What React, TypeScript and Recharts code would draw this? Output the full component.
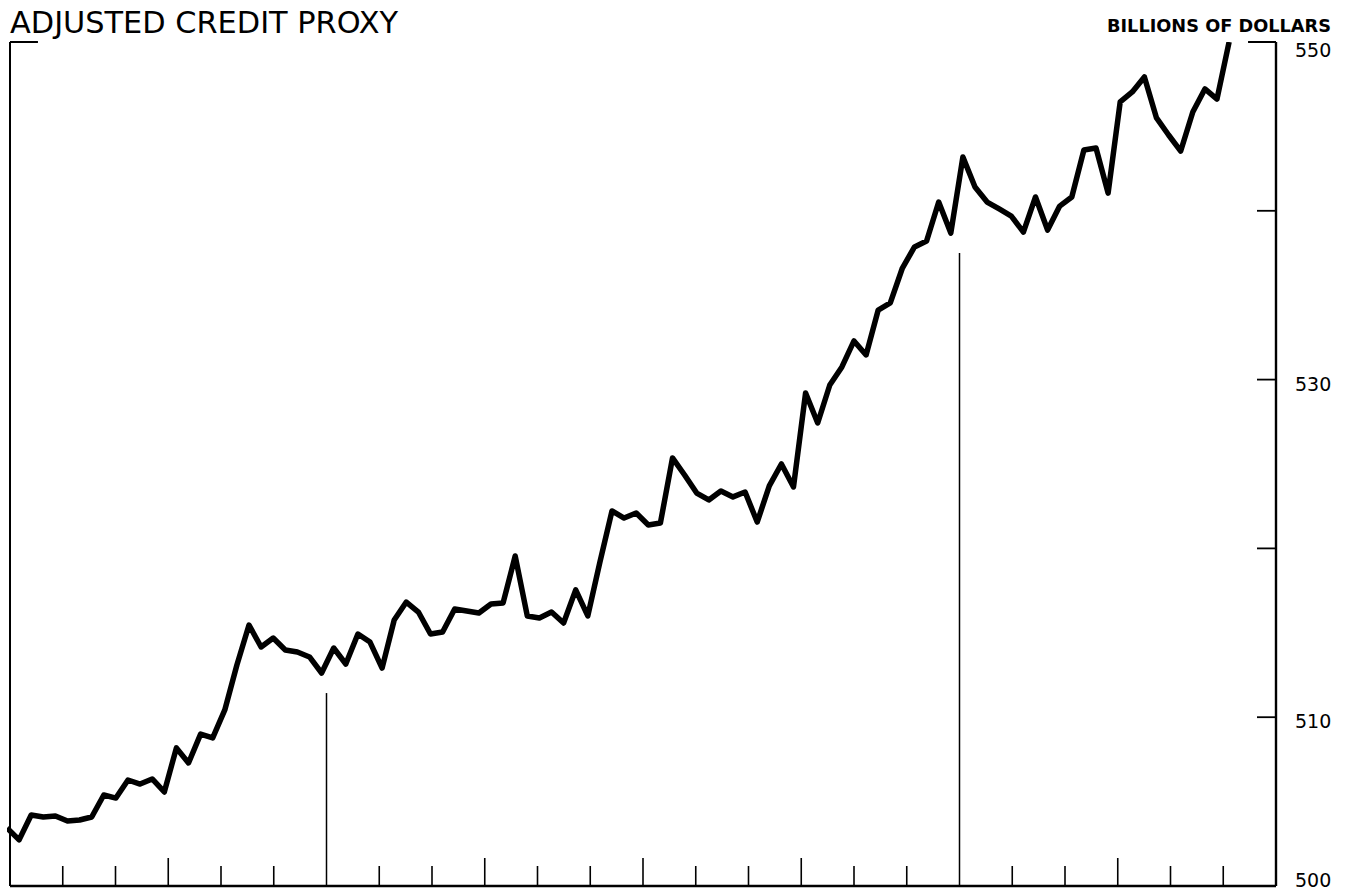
import React from 'react';
import { LineChart, Line, XAxis, YAxis, ReferenceLine } from 'recharts';

// Weekly values of the adjusted credit proxy, billions of dollars
const proxyValues: number[] = [
  503.44, 502.73, 504.21, 504.09, 504.15, 503.85, 503.91, 504.09, 505.39, 505.21,
  506.28, 506.04, 506.34, 505.57, 508.18, 507.29, 509.0, 508.77, 510.43, 513.09,
  515.46, 514.16, 514.69, 513.98, 513.86, 513.57, 512.62, 514.1, 513.15, 514.93,
  514.45, 512.91, 515.76, 516.82, 516.23, 514.93, 515.05, 516.41, 516.29, 516.17,
  516.71, 516.77, 519.55, 516.0, 515.88, 516.23, 515.58, 517.54, 516.0, 519.19,
  522.22, 521.8, 522.1, 521.39, 521.5, 525.36, 524.35, 523.28, 522.87, 523.4,
  523.05, 523.34, 521.56, 523.7, 525.0, 523.64, 529.21, 527.43, 529.68, 530.75,
  532.29, 531.46, 534.12, 534.54, 536.61, 537.86, 538.21, 540.52, 538.68, 543.19,
  541.41, 540.52, 540.11, 539.69, 538.74, 540.82, 538.86, 540.28, 540.82, 543.6,
  543.72, 541.05, 546.45, 547.04, 547.93, 545.5, 544.49, 543.54, 545.85, 547.22,
  546.62, 550.0,
];

// y-axis ticks and which of them carry labels
const yTicks: number[] = [500, 510, 520, 530, 540, 550];
const yLabelled: number[] = [500, 510, 530, 550];

// month ticks along the bottom (24 months shown)
const monthTicks: number[] = [1, 2, 3, 4, 5, 6, 7, 8, 9, 10, 11, 12, 13, 14, 15, 16, 17, 18, 19, 20, 21, 22, 23];
const quarterMonths: number[] = [3, 9, 12, 15, 21];
const yearMonths: number[] = [6, 18];
const yearDividerTops: number[] = [511.43, 537.5];

const TOTAL_MONTHS = 24;
const WEEKS_PER_MONTH = 4.3595;
const FIRST_MONTH_WEEK = 0.248; // series begins a few days before the first month mark

const monthToWeek = (m: number) => FIRST_MONTH_WEEK + WEEKS_PER_MONTH * m;
const X_MAX = monthToWeek(TOTAL_MONTHS);
const X_LEFT = monthToWeek(0);
const BRACKET = 2.31;

const data = proxyValues.map((v, i) => ({ week: i, value: v }));
const monthTickWeeks = monthTicks.map(monthToWeek);

const FONT = '"DejaVu Sans", "Liberation Sans", sans-serif';

const XTick = (props: any) => {
  const { x, y, payload } = props;
  const m = Math.round((payload.value - FIRST_MONTH_WEEK) / WEEKS_PER_MONTH);
  if (yearMonths.includes(m)) return <g />;
  const len = quarterMonths.includes(m) ? 28 : 20;
  return <line x1={x} x2={x} y1={y} y2={y - len} stroke="#000" strokeWidth={1.6} />;
};

const YTick = (props: any) => {
  const { x, y, payload } = props;
  const v = payload.value;
  const show = yLabelled.includes(v);
  const dy = v === 550 ? 8 : v === 500 ? -6 : 4;
  return (
    <g>
      {v !== 500 && v !== 550 && (
        <line x1={x - 19} x2={x} y1={y} y2={y} stroke="#000" strokeWidth={1.8} />
      )}
      {show && (
        <text x={x + 19} y={y + dy} dominantBaseline="central" fontFamily={FONT} fontSize={19} fill="#000">
          {v}
        </text>
      )}
    </g>
  );
};

export default function App() {
  return (
    <div style={{ position: 'absolute', left: 0, top: 0, width: 1354, height: 891, background: '#fff' }}>
      <LineChart width={1354} height={891} data={data} margin={{ top: 42, right: 18, bottom: 0, left: 7 }}>
        <XAxis
          type="number"
          dataKey="week"
          domain={[0, X_MAX]}
          ticks={monthTickWeeks}
          interval={0}
          tick={(p: any) => <XTick {...p} />}
          tickLine={false}
          axisLine={false}
          tickSize={0}
          tickMargin={0}
          height={5}
          allowDataOverflow
        />
        <YAxis
          type="number"
          orientation="right"
          domain={[500, 550]}
          ticks={yTicks}
          interval={0}
          tick={(p: any) => <YTick {...p} />}
          tickLine={false}
          axisLine={{ stroke: '#000', strokeWidth: 2.4 }}
          tickSize={0}
          tickMargin={0}
          width={60}
          allowDataOverflow
        />
        {/* frame: bottom, left, top brackets */}
        <ReferenceLine segment={[{ x: X_LEFT, y: 500 }, { x: X_MAX, y: 500 }]} stroke="#000" strokeWidth={2.4} ifOverflow="visible" />
        <ReferenceLine segment={[{ x: X_LEFT, y: 500 }, { x: X_LEFT, y: 550 }]} stroke="#000" strokeWidth={2} ifOverflow="visible" />
        <ReferenceLine segment={[{ x: X_LEFT, y: 550 }, { x: X_LEFT + BRACKET, y: 550 }]} stroke="#000" strokeWidth={2} ifOverflow="visible" />
        <ReferenceLine segment={[{ x: X_MAX - BRACKET, y: 550 }, { x: X_MAX, y: 550 }]} stroke="#000" strokeWidth={2} ifOverflow="visible" />
        {yearMonths.map((m, i) => (
          <ReferenceLine
            key={m}
            segment={[{ x: monthToWeek(m), y: yearDividerTops[i] }, { x: monthToWeek(m), y: 500 }]}
            stroke="#000"
            strokeWidth={1.5}
            ifOverflow="visible"
          />
        ))}
        <Line
          type="linear"
          dataKey="value"
          stroke="#000"
          strokeWidth={5.5}
          strokeLinejoin="round"
          dot={false}
          activeDot={false}
          isAnimationActive={false}
        />
      </LineChart>
      <svg width={1354} height={891} style={{ position: 'absolute', left: 0, top: 0, pointerEvents: 'none' }}>
        <text x={10} y={33} fontFamily={FONT} fontSize={31} fill="#000" textLength={388} lengthAdjust="spacingAndGlyphs">
          ADJUSTED CREDIT PROXY
        </text>
        <text x={1107} y={32} fontFamily={FONT} fontWeight="bold" fontSize={18.5} fill="#000" textLength={224} lengthAdjust="spacingAndGlyphs">
          BILLIONS OF DOLLARS
        </text>
      </svg>
    </div>
  );
}
